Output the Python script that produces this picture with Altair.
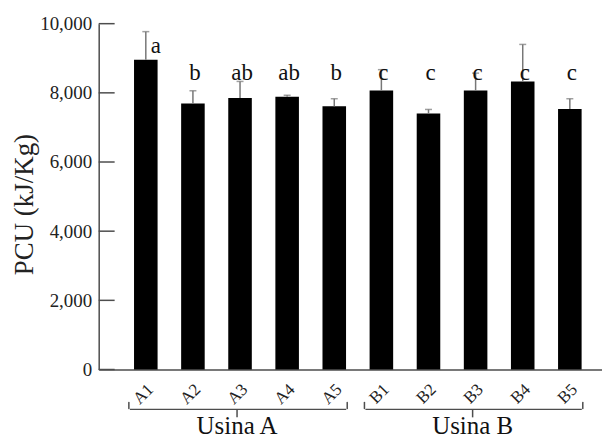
import altair as alt
import pandas as pd

cats = ["A1", "A2", "A3", "A4", "A5", "B1", "B2", "B3", "B4", "B5"]
means = [8960, 7690, 7850, 7890, 7610, 8070, 7400, 8070, 8330, 7530]
errs = [810, 370, 480, 40, 220, 600, 120, 500, 1070, 300]
letters = ["a", "b", "ab", "ab", "b", "c", "c", "c", "c", "c"]
y_ticks = [0, 2000, 4000, 6000, 8000, 10000]
groups = ["Usina A", "Usina B"]
group_first = ["A1", "B1"]
group_mid = ["A3", "B3"]
group_last = ["A5", "B5"]

SERIF = "Liberation Serif"
AX = "#4d4d4d"
ERR = "#777777"
H = 347
W = 505
YT = "PCU (kJ/Kg)"

df = pd.DataFrame({"cat": cats, "mean": means, "err": errs, "letter": letters})
gdf = pd.DataFrame({"group": groups, "first": group_first, "mid": group_mid, "last": group_last})
tdf = pd.DataFrame({"v": y_ticks})

xscale = alt.Scale(range=[0, 520], paddingInner=0.5, paddingOuter=0.75)
yscale = alt.Scale(domain=[0, 10000], nice=False)

x_main = alt.X(
    "cat:N", sort=cats, scale=xscale, title=None,
    axis=alt.Axis(
        labelAngle=-45, labelAlign="right", labelBaseline="middle",
        labelFont=SERIF, labelFontSize=17, labelColor="#222222",
        labelPadding=17, labelOffset=5, ticks=False,
        domainColor=AX, domainWidth=1.5, grid=False,
    ),
)
y_main = alt.Y(
    "mean:Q", scale=yscale, title=YT,
    axis=alt.Axis(
        values=y_ticks, format=",d", ticks=False, grid=False,
        labelFont=SERIF, labelFontSize=19, labelColor="#222222", labelPadding=7,
        domainColor=AX, domainWidth=1.5,
        titleFont=SERIF, titleFontSize=27, titleFontWeight="normal", titleColor="#222222",
        titleX=-74, titleY=181, titleAlign="center", titleBaseline="middle",
    ),
)

base = alt.Chart(df)
bars = base.mark_bar(color="black").encode(x=x_main, y=y_main)

err_rule = base.transform_calculate(top="datum.mean + datum.err").mark_rule(
    color=ERR, strokeWidth=1.5
).encode(
    x=alt.X("cat:N", sort=cats, title=None),
    y=alt.Y("mean:Q", title=YT),
    y2="top:Q",
)
err_cap = base.transform_calculate(top="datum.mean + datum.err").mark_tick(
    color=ERR, size=7, thickness=1.5
).encode(
    x=alt.X("cat:N", sort=cats, title=None),
    y=alt.Y("top:Q", title=YT),
)

letters_a = base.transform_filter("datum.letter == 'a'").mark_text(
    font=SERIF, fontSize=23, baseline="alphabetic", dx=10, color="#111111"
).encode(
    x=alt.X("cat:N", sort=cats, title=None),
    y=alt.Y("ly:Q", title=YT),
    text="letter:N",
).transform_calculate(ly="9140")
letters_rest = base.transform_filter("datum.letter != 'a'").mark_text(
    font=SERIF, fontSize=23, baseline="alphabetic", dx=2, color="#111111"
).encode(
    x=alt.X("cat:N", sort=cats, title=None),
    y=alt.Y("ly:Q", title=YT),
    text="letter:N",
).transform_calculate(ly="8360")

yticks = alt.Chart(tdf).mark_rule(color=AX, strokeWidth=1.5).encode(
    y=alt.Y("v:Q", title=YT),
    x=alt.value(0),
    x2=alt.value(16),
)

gbase = alt.Chart(gdf)
brace_line = gbase.mark_rule(color=AX, strokeWidth=1.5, xOffset=-16, x2Offset=12).encode(
    x=alt.X("first:N", sort=cats, title=None),
    x2="last:N",
    y=alt.value(387),
)
hook_l = gbase.mark_rule(color=AX, strokeWidth=1.5, xOffset=-17, strokeCap="round").encode(
    x=alt.X("first:N", sort=cats, title=None),
    y=alt.value(380),
    y2=alt.value(386),
)
hook_r = gbase.mark_rule(color=AX, strokeWidth=1.5, xOffset=13, strokeCap="round").encode(
    x=alt.X("last:N", sort=cats, title=None),
    y=alt.value(380),
    y2=alt.value(386),
)
mid_tick = gbase.mark_rule(color=AX, strokeWidth=1.5, xOffset=-3).encode(
    x=alt.X("mid:N", sort=cats, title=None),
    y=alt.value(387),
    y2=alt.value(395),
)
gtext = gbase.mark_text(font=SERIF, fontSize=25, baseline="alphabetic", dx=-3, color="#111111").encode(
    x=alt.X("mid:N", sort=cats, title=None),
    y=alt.value(412),
    text="group:N",
)

chart = alt.layer(
    bars, err_rule, err_cap, letters_a, letters_rest, yticks,
    brace_line, hook_l, hook_r, mid_tick, gtext,
).properties(
    width=W, height=H,
    autosize=alt.AutoSizeParams(type="none"),
    padding={"left": 91, "top": 15, "right": 0, "bottom": 70},
).configure(background="white").configure_view(stroke=None)

chart.save("out.html", embed_options={"renderer": "svg", "actions": False})
